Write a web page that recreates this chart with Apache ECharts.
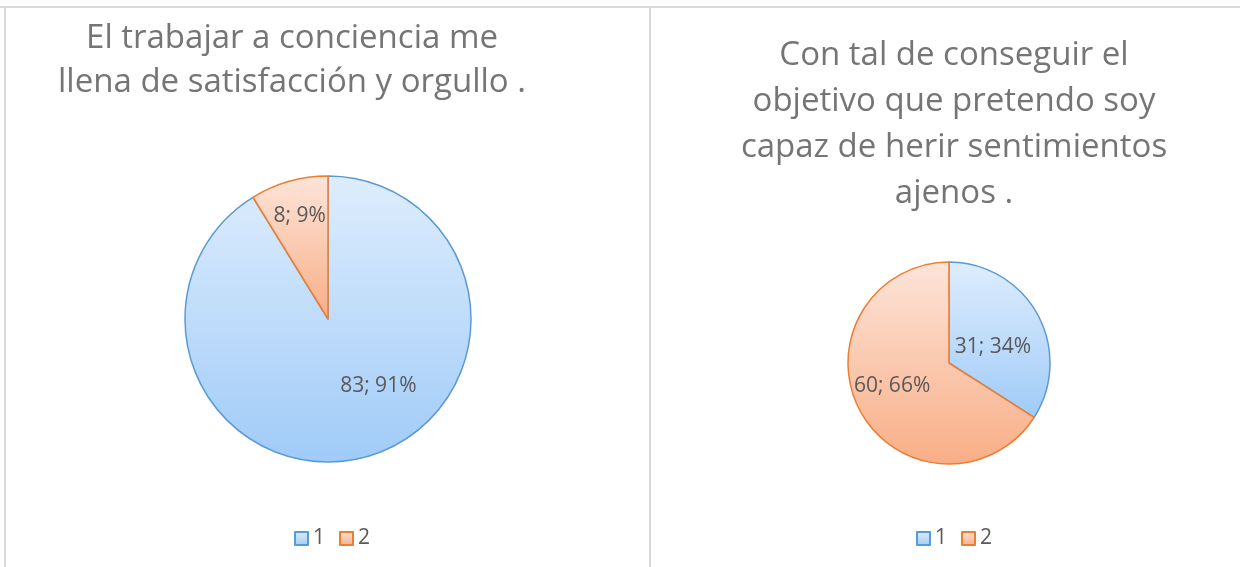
<!DOCTYPE html>
<html>
<head>
<meta charset="utf-8">
<script src="https://cdn.jsdelivr.net/npm/echarts@6/dist/echarts.min.js"></script>
<style>
  html, body { margin: 0; padding: 0; background: #fff; }
  #main { width: 1240px; height: 567px; }
</style>
</head>
<body>
<div id="main"></div>
<script>
// data
var categories = ['1', '2'];
var leftTitle = 'El trabajar a conciencia me\nllena de satisfacción y orgullo .';
var leftValues = [83, 8];
var rightTitle = 'Con tal de conseguir el\nobjetivo que pretendo soy\ncapaz de herir sentimientos\najenos .';
var rightValues = [31, 60];

var FONT = '"Open Sans", "Noto Sans", sans-serif';

function grad(top, bottom) {
    return new echarts.graphic.LinearGradient(0, 0, 0, 1, [
        { offset: 0, color: top },
        { offset: 1, color: bottom }
    ]);
}

var sliceStyles = [
    { color: grad('#deedfd', '#a0cbf8'), borderColor: '#5b9bd5', borderWidth: 1.5 },
    { color: grad('#fde4d9', '#f8ae86'), borderColor: '#ed7d31', borderWidth: 1.5 }
];

function pieData(values, offsets) {
    return values.map(function (v, i) {
        return {
            name: categories[i],
            value: v,
            itemStyle: sliceStyles[i],
            label: { offset: offsets[i] }
        };
    });
}

function pieSeries(values, center, radius, offsets) {
    return {
        type: 'pie',
        center: center,
        radius: radius,
        startAngle: 90,
        clockwise: true,
        percentPrecision: 0,
        silent: true,
        label: {
            show: true,
            position: 'inside',
            formatter: '{c}; {d}%',
            color: '#595959',
            fontSize: 21,
            fontFamily: FONT
        },
        labelLine: { show: false },
        data: pieData(values, offsets)
    };
}

function legendAt(x) {
    return {
        data: categories.map(function (c, i) {
            return {
                name: c,
                itemStyle: {
                    color: sliceStyles[i].color,
                    borderColor: sliceStyles[i].borderColor,
                    borderWidth: 2
                }
            };
        }),
        left: x,
        top: 523,
        icon: 'rect',
        itemWidth: 13,
        itemHeight: 13,
        itemGap: 14,
        selectedMode: false,
        textStyle: { color: '#595959', fontSize: 21, fontFamily: FONT }
    };
}

window.addEventListener('load', function () {
    var chart = echarts.init(document.getElementById('main'));
    var option = {
        backgroundColor: '#fff',
        animation: false,
        title: [{
            text: leftTitle,
            left: 287,
            top: 12,
            textAlign: 'center',
            textStyle: { color: '#757575', fontSize: 33, fontWeight: 'normal', fontFamily: FONT, lineHeight: 44, align: 'center' }
        }, {
            text: rightTitle,
            left: 949,
            top: 28,
            textAlign: 'center',
            textStyle: { color: '#757575', fontSize: 33, fontWeight: 'normal', fontFamily: FONT, lineHeight: 46, align: 'center' }
        }],
        legend: [legendAt(289), legendAt(911)],
        graphic: [
            { type: 'line', shape: { x1: 0, y1: 7, x2: 1240, y2: 7 }, style: { stroke: '#d9d9d9', lineWidth: 2 } },
            { type: 'line', shape: { x1: 5, y1: 7, x2: 5, y2: 567 }, style: { stroke: '#d9d9d9', lineWidth: 2 } },
            { type: 'line', shape: { x1: 650, y1: 7, x2: 650, y2: 567 }, style: { stroke: '#d9d9d9', lineWidth: 2 } }
        ],
        series: [
            pieSeries(leftValues, [328, 319], 143, [[30, -5], [-8, -31]]),
            pieSeries(rightValues, [949, 363], 101, [[-3, 10], [-10, -3]])
        ]
    };
    chart.setOption(option);
});
</script>
</body>
</html>
